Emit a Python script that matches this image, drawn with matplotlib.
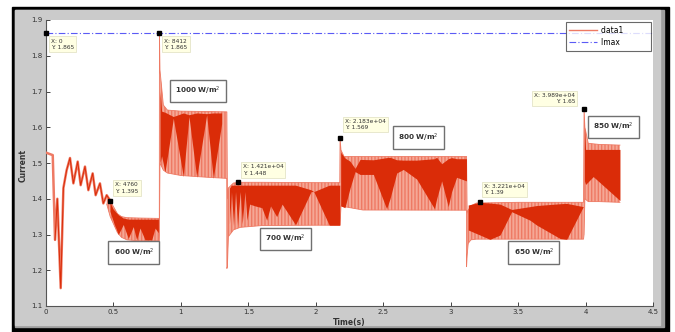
import numpy as np
import matplotlib
matplotlib.use("Agg")
import matplotlib.pyplot as plt
from matplotlib.patches import Rectangle
from matplotlib.lines import Line2D
from matplotlib.ticker import FormatStrFormatter

# start-up transient (single trace)
start_t = [0, 0.05, 0.067, 0.084, 0.109, 0.129, 0.153, 0.178, 0.203, 0.235, 0.257,
           0.289, 0.314, 0.346, 0.368, 0.40, 0.425, 0.45, 0.476]
start_v = [1.529, 1.522, 1.285, 1.40, 1.15, 1.43, 1.48, 1.514, 1.443, 1.504, 1.438,
           1.49, 1.424, 1.471, 1.41, 1.443, 1.387, 1.41, 1.395]

# ripple envelope (light band)
env_t = [0.45, 0.476, 0.50, 0.53, 0.56, 0.60, 0.70, 0.84,
         0.841, 0.845, 0.87, 0.90, 1.0, 1.2, 1.34,
         1.341, 1.345, 1.352, 1.39, 1.44, 1.6, 2.0, 2.178,
         2.18, 2.187, 2.21, 2.35, 3.117,
         3.118, 3.122, 3.13, 3.15, 3.19, 3.5, 3.985,
         3.989, 3.995, 4.02, 4.1, 4.255]
env_hi = [1.41, 1.395, 1.378, 1.358, 1.35, 1.347, 1.346, 1.345,
          1.865, 1.76, 1.662, 1.648, 1.645, 1.644, 1.643,
          1.643, 1.40, 1.43, 1.444, 1.446, 1.446, 1.445, 1.445,
          1.569, 1.536, 1.518, 1.518, 1.518,
          1.518, 1.36, 1.368, 1.38, 1.388, 1.39, 1.39,
          1.65, 1.60, 1.555, 1.552, 1.55]
env_lo = [1.385, 1.35, 1.33, 1.305, 1.292, 1.285, 1.282, 1.282,
          1.30, 1.50, 1.48, 1.472, 1.465, 1.46, 1.457,
          1.205, 1.21, 1.294, 1.313, 1.32, 1.325, 1.326, 1.326,
          1.326, 1.38, 1.378, 1.3685, 1.368,
          1.21, 1.24, 1.275, 1.285, 1.287, 1.287, 1.287,
          1.30, 1.40, 1.392, 1.392, 1.39]

# dense beat pattern (dark band), one block per irradiance step
dark = {
    "600": ([0.474, 0.50, 0.536, 0.573, 0.61, 0.647, 0.672, 0.697, 0.734, 0.784, 0.808, 0.833],
            [1.39, 1.37, 1.355, 1.346, 1.343, 1.343, 1.343, 1.343, 1.343, 1.343, 1.343, 1.343],
            [1.365, 1.335, 1.300, 1.328, 1.289, 1.322, 1.285, 1.318, 1.285, 1.285, 1.318, 1.305]),
    "1000": ([0.845, 0.857, 0.882, 0.944, 1.018, 1.060, 1.117, 1.191, 1.240, 1.302],
             [1.70, 1.645, 1.642, 1.63, 1.64, 1.635, 1.64, 1.638, 1.64, 1.64],
             [1.50, 1.52, 1.475, 1.625, 1.462, 1.630, 1.460, 1.635, 1.457, 1.61]),
    "700": ([1.36, 1.375, 1.39, 1.405, 1.42, 1.44, 1.455, 1.475, 1.49, 1.51, 1.55, 1.60,
             1.636, 1.665, 1.71, 1.75, 1.85, 1.965, 1.985, 2.10, 2.178],
            [1.43, 1.438, 1.438, 1.438, 1.438, 1.438, 1.438, 1.438, 1.438, 1.438, 1.438, 1.438,
             1.438, 1.438, 1.438, 1.438, 1.438, 1.425, 1.42, 1.438, 1.438],
            [1.33, 1.42, 1.325, 1.42, 1.325, 1.42, 1.33, 1.42, 1.34, 1.385, 1.38, 1.375,
             1.34, 1.38, 1.35, 1.385, 1.327, 1.42, 1.42, 1.326, 1.326]),
    "800": ([2.185, 2.216, 2.254, 2.291, 2.328, 2.427, 2.525, 2.550, 2.600, 2.649, 2.748,
             2.88, 2.896, 2.933, 2.982, 3.007, 3.044, 3.117],
            [1.53, 1.514, 1.505, 1.485, 1.510, 1.509, 1.515, 1.516, 1.509, 1.508, 1.508,
             1.512, 1.516, 1.498, 1.512, 1.515, 1.512, 1.512],
            [1.38, 1.375, 1.43, 1.476, 1.468, 1.468, 1.372, 1.40, 1.472, 1.482, 1.455,
             1.372, 1.40, 1.45, 1.378, 1.42, 1.46, 1.45]),
    "650": ([3.13, 3.217, 3.291, 3.366, 3.452, 3.588, 3.637, 3.81, 3.86, 3.983],
            [1.3825, 1.39, 1.388, 1.385, 1.370, 1.378, 1.381, 1.386, 1.387, 1.378],
            [1.3126, 1.2986, 1.2865, 1.2986, 1.3638, 1.34, 1.3266, 1.289, 1.2865, 1.378]),
    "850": ([3.992, 4.0, 4.057, 4.255],
            [1.60, 1.538, 1.538, 1.538],
            [1.45, 1.44, 1.462, 1.395]),
}

imax = 1.865

tip_t = [0, 0.8412, 0.476, 1.421, 2.183, 3.221, 3.989]
tip_v = [1.865, 1.865, 1.395, 1.448, 1.569, 1.39, 1.65]
tip_x = ["0", "8412", "4760", "1.421e+04", "2.183e+04", "3.221e+04", "3.989e+04"]
tip_off = [(5, -6), (5, -6), (5, 7), (5, 6), (5, 8), (4, 7), (-9, 5)]  # px

irr_labels = ["1000 W/m$^2$", "600 W/m$^2$", "700 W/m$^2$", "800 W/m$^2$", "650 W/m$^2$", "850 W/m$^2$"]
irr_t = [1.127, 0.652, 1.775, 2.761, 3.617, 4.207]
irr_v = [1.701, 1.250, 1.287, 1.571, 1.250, 1.601]

LIGHT = "#f5a896"
LIGHT_LINE = "#ee7a64"
DARK = "#da2c08"

W, H = 675, 332
fig = plt.figure(figsize=(W / 100, H / 100), dpi=100)
fig.patch.set_facecolor("white")


def fr(x0, y0, x1, y1, color):
    fig.patches.append(Rectangle((x0 / W, 1 - y1 / H), (x1 - x0) / W, (y1 - y0) / H,
                                 transform=fig.transFigure, color=color, zorder=-10))


fr(12, 6.5, 669, 331.5, "black")
fr(15, 10, 664, 327, "#9e9e9e")
fr(15, 10, 660, 325, "#cbcbcb")

ax = fig.add_axes([46 / W, 1 - 306 / H, 607 / W, 286 / H])
ax.set_facecolor("white")

ax.fill_between(env_t, env_lo, env_hi, facecolor=LIGHT, edgecolor=LIGHT_LINE,
                hatch="|||||", linewidth=0, zorder=2)
ax.plot(env_t, env_hi, color=LIGHT_LINE, lw=0.6, zorder=3)
ax.plot(env_t, env_lo, color=LIGHT_LINE, lw=0.6, zorder=3)
for key, (t, top, bot) in dark.items():
    ax.fill_between(t, bot, top, color=DARK, linewidth=0, zorder=4)

ax.plot(start_t, start_v, color=LIGHT_LINE, lw=1.8, zorder=3)
ax.plot(start_t[2:], start_v[2:], color=DARK, lw=0.7, zorder=4)

ax.axhline(imax, color="#5b5bf5", lw=0.8, ls=(0, (6, 2, 1, 2)), zorder=5)

ax.plot(tip_t, tip_v, "s", color="black", ms=3.5, zorder=8, clip_on=False)
for t, v, xs, (dx, dy) in zip(tip_t, tip_v, tip_x, tip_off):
    ax.annotate(f"X: {xs}\nY: {v:g}", (t, v), xytext=(dx * 0.72, dy * 0.72),
                textcoords="offset points", fontsize=4.2, color="#333333",
                ha="left" if dx > 0 else "right", va="top" if dy < 0 else "bottom",
                linespacing=1.3, zorder=9,
                bbox=dict(boxstyle="square,pad=0.35", fc="#ffffe3", ec="#e4e4c8", lw=0.6))

for lab, t, v in zip(irr_labels, irr_t, irr_v):
    ax.text(t, v, lab, ha="center", va="center", fontsize=5.2, fontweight="bold",
            color="#333333", zorder=9,
            bbox=dict(boxstyle="square,pad=0.72", fc="white", ec="#707070", lw=1))

ax.set_xlim(0, 4.5)
ax.set_ylim(1.1, 1.9)
ax.set_xticks(np.arange(0, 4.51, 0.5))
ax.set_yticks(np.arange(1.1, 1.91, 0.1))
ax.xaxis.set_major_formatter(FormatStrFormatter("%g"))
ax.yaxis.set_major_formatter(FormatStrFormatter("%g"))
ax.tick_params(direction="in", length=3, width=0.7, labelsize=5, colors="#444444",
               labelcolor="#333333", pad=2.5)
for s in ["top", "right"]:
    ax.spines[s].set_visible(False)
for s in ["left", "bottom"]:
    ax.spines[s].set_color("#555555")
    ax.spines[s].set_linewidth(0.8)

handles = [Line2D([], [], color=LIGHT_LINE, lw=1),
           Line2D([], [], color="#5b5bf5", lw=0.8, ls=(0, (6, 2, 1, 2)))]
leg = ax.legend(handles, ["data1          ", "Imax          "], loc="upper right",
                fontsize=5.5, frameon=True, fancybox=False, edgecolor="#444444",
                borderaxespad=0.3, handlelength=3.6, handletextpad=0.6,
                borderpad=0.45, labelspacing=0.45)
leg.get_frame().set_linewidth(0.8)
leg.set_zorder(10)

fig.text(349 / W, 1 - 323 / H, "Time(s)", ha="center", va="center", fontsize=5.5,
         fontweight="bold", color="#333333")
fig.text(23 / W, 1 - 165 / H, "Current", ha="center", va="center", rotation=90,
         fontsize=5.5, fontweight="bold", color="#333333")

fig.savefig("out.png", dpi=100)
